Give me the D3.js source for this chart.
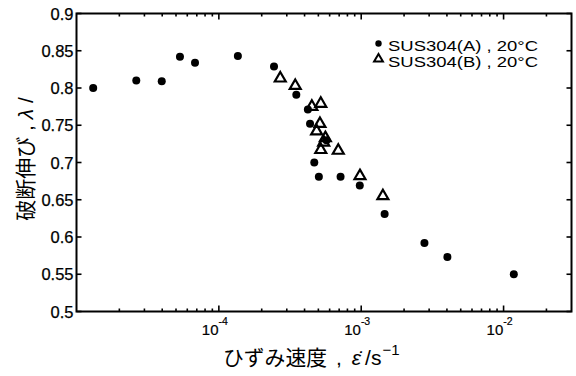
<!DOCTYPE html>
<html><head><meta charset="utf-8">
<script src="https://cdn.jsdelivr.net/npm/d3@7"></script>
<style>
html,body{margin:0;padding:0;background:#fff;}
svg{display:block;}
text{font-family:"Liberation Sans",Arial,"Noto Sans CJK JP",sans-serif;fill:#000;}
</style></head>
<body><svg id="c" width="576" height="376"></svg>
<script>
// Series A (filled circles): strain rate (1/s), elongation
const seriesA_rate = [1.31e-5, 2.63e-5, 3.97e-5, 5.33e-5, 6.8e-5, 1.36e-4, 2.44e-4, 3.5e-4, 4.22e-4, 4.37e-4, 5.7e-4, 4.68e-4, 5.04e-4, 7.16e-4, 9.77e-4, 1.46e-3, 2.78e-3, 4.03e-3, 1.18e-2];
const seriesA_val  = [0.800, 0.810, 0.809, 0.842, 0.834, 0.843, 0.829, 0.791, 0.771, 0.752, 0.730, 0.700, 0.681, 0.681, 0.669, 0.631, 0.592, 0.573, 0.550];
// Series B (open triangles)
const seriesB_rate = [2.7e-4, 3.44e-4, 4.5e-4, 5.2e-4, 5.13e-4, 4.86e-4, 5.6e-4, 5.45e-4, 5.2e-4, 6.9e-4, 9.8e-4, 1.42e-3];
const seriesB_val  = [0.813, 0.803, 0.775, 0.779, 0.752, 0.742, 0.733, 0.727, 0.717, 0.716, 0.682, 0.655];
const seriesNames = ["SUS304(A) , 20°C", "SUS304(B) , 20°C"];
const yTicks = [0.5, 0.55, 0.6, 0.65, 0.7, 0.75, 0.8, 0.85, 0.9];
const yTickLabels = ["0.5", "0.55", "0.6", "0.65", "0.7", "0.75", "0.8", "0.85", "0.9"];
const xMajor = [1e-4, 1e-3, 1e-2];
const xMajorExp = ["-4", "-3", "-2"];
const xDomain = [1e-5, 3e-2];
const yDomain = [0.5, 0.9];

const svg = d3.select("#c");
const L = 76.5, R = 571.5, T = 13.5, B = 311.5;
const x = d3.scaleLog().domain(xDomain).range([L, R]);
const y = d3.scaleLinear().domain(yDomain).range([B, T]);

// minor ticks
const minor = [];
for (let e = -5; e <= -2; e++) for (let m = 2; m <= 9; m++) {
  const v = m * Math.pow(10, e);
  if (v > xDomain[0] && v < xDomain[1] * 0.999) minor.push(v);
}
const g = svg.append("g");
const tickG = g.append("g").attr("stroke", "#000").attr("stroke-width", 1.6);
minor.forEach(v => {
  tickG.append("line").attr("x1", x(v)).attr("x2", x(v)).attr("y1", B).attr("y2", B - 3);
  tickG.append("line").attr("x1", x(v)).attr("x2", x(v)).attr("y1", T).attr("y2", T + 3);
});
xMajor.forEach(v => {
  tickG.append("line").attr("x1", x(v)).attr("x2", x(v)).attr("y1", B).attr("y2", B - 6);
  tickG.append("line").attr("x1", x(v)).attr("x2", x(v)).attr("y1", T).attr("y2", T + 6);
});
yTicks.forEach(v => {
  tickG.append("line").attr("x1", L).attr("x2", L + 5).attr("y1", y(v)).attr("y2", y(v));
  tickG.append("line").attr("x1", R).attr("x2", R - 5).attr("y1", y(v)).attr("y2", y(v));
});
// frame
g.append("rect").attr("x", L).attr("y", T).attr("width", R - L).attr("height", B - T)
  .attr("fill", "none").attr("stroke", "#000").attr("stroke-width", 2);

// y tick labels
yTicks.forEach((v, i) => {
  g.append("text").attr("x", L - 3).attr("y", y(v) + 6).attr("text-anchor", "end")
    .attr("font-size", 16.5).attr("stroke", "#000").attr("stroke-width", 0.25).text(yTickLabels[i]);
});
// x tick labels
xMajor.forEach((v, i) => {
  const t = g.append("text").attr("x", x(v) - 4).attr("y", 335).attr("text-anchor", "middle")
    .attr("font-size", 15).attr("stroke", "#000").attr("stroke-width", 0.2);
  t.append("tspan").text("10");
  t.append("tspan").attr("dy", -10).attr("font-size", 10.5).text(xMajorExp[i]);
});

// axis titles
const xt = g.append("text").attr("x", 223).attr("y", 365).attr("text-anchor", "start").attr("font-size", 21);
xt.append("tspan").attr("font-family", "'Noto Sans CJK JP'").attr("textLength", 104)
  .attr("lengthAdjust", "spacingAndGlyphs").text("ひずみ速度");
xt.append("tspan").attr("dx", 9).text(",");
xt.append("tspan").attr("dx", 10).attr("font-style", "italic").text("ε\u0307");
xt.append("tspan").attr("dx", 4).text("/s");
xt.append("tspan").attr("dx", 1).attr("dy", -10).attr("font-size", 15).text("−1");

const yt = g.append("text").attr("transform", "translate(33,159) rotate(-90)").attr("text-anchor", "middle").attr("font-size", 21);
yt.append("tspan").attr("font-family", "'Noto Sans CJK JP'").text("破断伸び");
yt.append("tspan").text(" , ");
yt.append("tspan").attr("font-style", "italic").text("λ");
yt.append("tspan").text(" /");

// data
const dataA = seriesA_rate.map((r, i) => ({ r, v: seriesA_val[i] }));
const dataB = seriesB_rate.map((r, i) => ({ r, v: seriesB_val[i] }));
g.append("g").selectAll("circle").data(dataA).join("circle")
  .attr("cx", d => x(d.r)).attr("cy", d => y(d.v)).attr("r", 4).attr("fill", "#000");
const tri = d3.symbol().type(d3.symbolTriangle).size(52);
g.append("g").selectAll("path").data(dataB).join("path")
  .attr("d", tri).attr("transform", d => `translate(${x(d.r)},${y(d.v)})`)
  .attr("fill", "none").attr("stroke", "#000").attr("stroke-width", 2.2);

// legend
const lg = g.append("g");
lg.append("circle").attr("cx", 378.5).attr("cy", 43.5).attr("r", 3.2).attr("fill", "#000");
lg.append("path").attr("d", d3.symbol().type(d3.symbolTriangle).size(34)).attr("transform", "translate(378.5,59)")
  .attr("fill", "none").attr("stroke", "#000").attr("stroke-width", 2);
lg.append("text").attr("x", 388).attr("y", 51).attr("font-size", 15).attr("textLength", 150)
  .attr("lengthAdjust", "spacingAndGlyphs").text(seriesNames[0]);
lg.append("text").attr("x", 388).attr("y", 66.5).attr("font-size", 15).attr("textLength", 150)
  .attr("lengthAdjust", "spacingAndGlyphs").text(seriesNames[1]);
</script></body></html>
